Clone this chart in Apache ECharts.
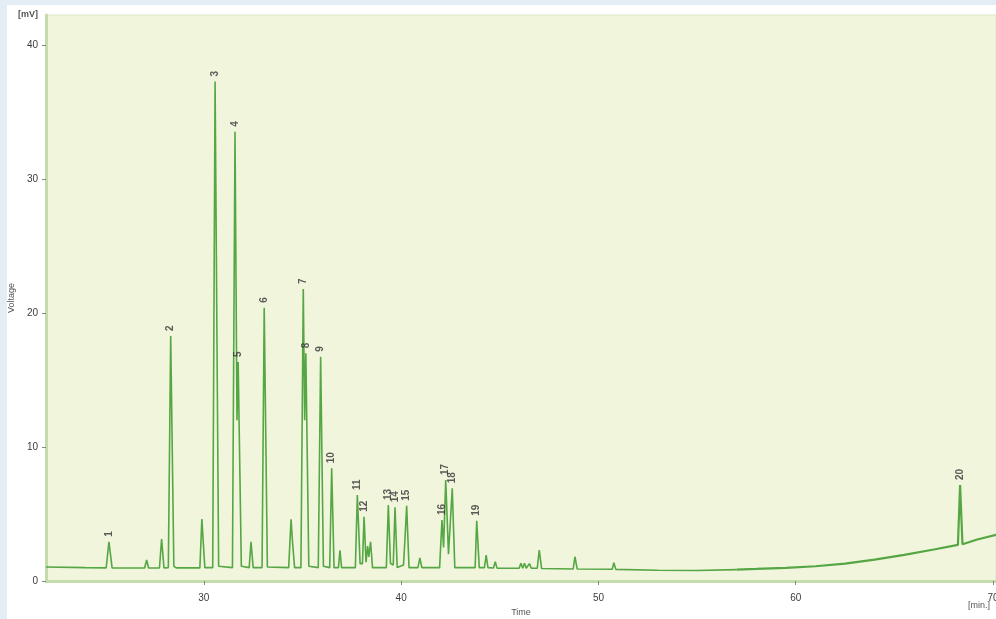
<!DOCTYPE html>
<html><head><meta charset="utf-8">
<script src="https://cdn.jsdelivr.net/npm/echarts@6/dist/echarts.min.js"></script>
<style>
html,body{margin:0;padding:0;background:#e3edf6;width:996px;height:619px;overflow:hidden}
#c{position:absolute;left:7px;top:5px;width:989px;height:614px;background:#fff}
</style></head><body><div id="c"></div>
<script>
// Chromatogram trace (time in min, voltage in mV)
const traceTime = [22.0, 24.0, 25.05, 25.19, 25.35, 27.0, 27.1, 27.2, 27.75, 27.86, 27.98, 28.2, 28.32, 28.48, 28.6,
  29.8, 29.9, 30.05, 30.45, 30.57, 30.75, 31.45, 31.58, 31.68, 31.74, 31.9, 32.3, 32.39, 32.5, 32.95, 33.06, 33.22,
  34.3, 34.42, 34.5, 34.6, 34.92, 35.04, 35.11, 35.17, 35.32, 35.8, 35.92, 36.06, 36.38, 36.48, 36.6, 36.82, 36.9, 36.98,
  37.68, 37.78, 37.92, 38.04, 38.12, 38.22, 38.3, 38.36, 38.45, 38.55, 39.25, 39.35, 39.46, 39.6, 39.69, 39.8,
  40.12, 40.2, 40.28, 40.4, 40.85, 40.95, 41.05, 41.95, 42.07, 42.15, 42.26, 42.4, 42.59, 42.72, 43.75, 43.83, 43.96,
  44.22, 44.31, 44.4, 44.68, 44.77, 44.86, 45.98, 46.07, 46.16, 46.25, 46.34, 46.5, 46.6, 46.9, 47.0, 47.12,
  48.72, 48.81, 48.92, 50.7, 50.78, 50.88, 53.0, 55.0, 57.0];
const traceVoltage = [1.05, 1.0, 0.98, 2.93, 0.98, 0.97, 1.57, 0.97, 0.97, 3.14, 0.98, 1.0, 18.3, 1.1, 0.98,
  0.98, 4.63, 1.0, 1.0, 37.3, 1.1, 1.0, 33.55, 12.0, 16.35, 1.1, 1.0, 2.93, 1.0, 1.0, 20.4, 1.05,
  1.0, 4.6, 2.8, 1.0, 1.0, 21.8, 12.0, 17.0, 1.1, 1.0, 16.75, 1.1, 1.0, 8.42, 1.0, 1.0, 2.3, 1.0,
  1.0, 6.42, 1.3, 1.3, 4.8, 1.4, 2.6, 1.8, 2.93, 1.0, 1.0, 5.68, 1.3, 1.2, 5.5, 1.0,
  1.2, 3.3, 5.62, 1.0, 1.0, 1.72, 1.0, 1.0, 4.56, 2.5, 7.54, 2.0, 6.92, 1.0, 1.0, 4.5, 1.0,
  1.0, 1.94, 1.0, 0.97, 1.44, 0.96, 0.95, 1.32, 0.95, 1.32, 0.95, 1.3, 0.95, 0.95, 2.3, 0.93,
  0.9, 1.81, 0.9, 0.88, 1.37, 0.87, 0.8, 0.78, 0.85];
// Noisy rising tail of the baseline
const tailTime = [57.0, 58.0, 59.5, 61.0, 62.5, 64.0, 65.5, 67.0, 68.22, 68.33, 68.45, 69.2, 70.15];
const tailVoltage = [0.85, 0.9, 0.98, 1.1, 1.3, 1.6, 1.95, 2.35, 2.7, 7.17, 2.75, 3.1, 3.45];

// Labelled peaks
const peakNames = ['1','2','3','4','5','6','7','8','9','10','11','12','13','14','15','16','17','18','19','20'];
const peakTimes = [25.19, 28.32, 30.57, 31.58, 31.74, 33.06, 35.04, 35.17, 35.92, 36.48, 37.78, 38.12, 39.35, 39.69, 40.28, 42.07, 42.26, 42.59, 43.83, 68.33];
const peakHeights = [2.93, 18.3, 37.3, 33.55, 16.35, 20.4, 21.8, 17.0, 16.75, 8.42, 6.42, 4.8, 5.68, 5.5, 5.62, 4.56, 7.54, 6.92, 4.5, 7.17];

const xTicks = [30, 40, 50, 60, 70];
const yTicks = [0, 10, 20, 30, 40];

const chart = echarts.init(document.getElementById('c'), null, {renderer: 'canvas'});
const lineColor = '#55a644';
chart.setOption({
  animation: false,
  grid: {left: 39, top: 10, right: 0, bottom: 38, containLabel: false, outerBoundsMode: 'none',
         show: true, backgroundColor: '#f1f5dc', borderColor: '#dbe9c6', borderWidth: 1},
  xAxis: {
    type: 'value', min: 22, max: 70.15,
    name: 'Time', nameLocation: 'middle', nameGap: 27,
    nameTextStyle: {fontSize: 9, color: '#555', fontFamily: 'Liberation Sans'},
    axisLine: {show: true, lineStyle: {color: '#c4dcab', width: 3}},
    axisTick: {show: true, customValues: xTicks, length: 4, lineStyle: {color: '#888'}},
    axisLabel: {customValues: xTicks, fontSize: 10, color: '#3c3c3c', margin: 12, fontFamily: 'Liberation Sans'},
    splitLine: {show: false}
  },
  yAxis: {
    type: 'value', min: 0, max: 42.27,
    name: 'Voltage', nameLocation: 'middle', nameGap: 27, nameRotate: 90,
    nameTextStyle: {fontSize: 9, color: '#555', fontFamily: 'Liberation Sans'},
    axisLine: {show: true, lineStyle: {color: '#c4dcab', width: 3}},
    axisTick: {show: true, customValues: yTicks, length: 4, lineStyle: {color: '#888'}},
    axisLabel: {customValues: yTicks, fontSize: 10, color: '#3c3c3c', margin: 8, fontFamily: 'Liberation Sans'},
    splitLine: {show: false}
  },
  graphic: [
    {type: 'text', left: 11, top: 5, style: {text: '[mV]', fontSize: 9, fontWeight: 'bold', fill: '#555', fontFamily: 'Liberation Sans'}},
    {type: 'text', left: 961, top: 596, style: {text: '[min.]', fontSize: 9, fill: '#555', fontFamily: 'Liberation Sans'}}
  ],
  series: [
    {type: 'line', data: traceTime.map((t, i) => [t, traceVoltage[i]]), showSymbol: false, symbol: 'none',
     lineStyle: {color: lineColor, width: 1.6}, z: 3},
    {type: 'line', data: tailTime.map((t, i) => [t, tailVoltage[i]]), showSymbol: false, symbol: 'none',
     lineStyle: {color: lineColor, width: 2.2}, z: 3},
    {type: 'scatter', symbolSize: 0, z: 4,
     data: peakTimes.map((t, i) => ({name: peakNames[i], value: [t, peakHeights[i]]})),
     label: {show: true, formatter: p => p.name, position: 'top', distance: 5, rotate: 90,
       align: 'left', verticalAlign: 'middle', fontSize: 10, fontWeight: 'bold', color: '#333', fontFamily: 'Liberation Sans'}}
  ]
});
</script></body></html>
